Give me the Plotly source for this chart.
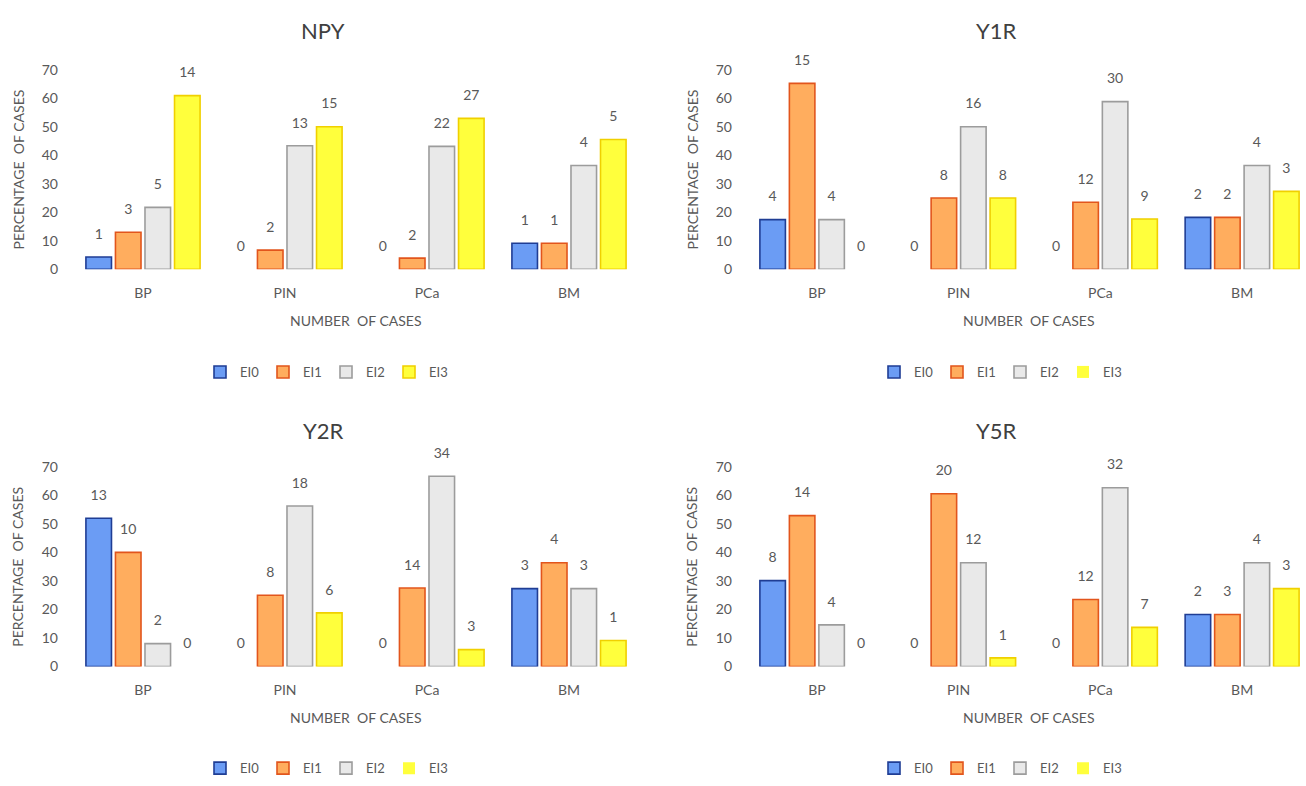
import plotly.graph_objects as go
from plotly.subplots import make_subplots

# Groups on the x axis and grade series
categories = ["BP", "PIN", "PCa", "BM"]
series_names = ["EI0", "EI1", "EI2", "EI3"]
y_ticks = [0, 10, 20, 30, 40, 50, 60, 70]

# Percentage of cases (bar heights) per receptor, one list per grade
npy_pct = {
    "EI0": [4.3, 0, 0, 9.1],
    "EI1": [13.0, 6.7, 3.9, 9.1],
    "EI2": [21.7, 43.3, 43.1, 36.4],
    "EI3": [60.9, 50.0, 52.9, 45.5],
}
y1r_pct = {
    "EI0": [17.4, 0, 0, 18.2],
    "EI1": [65.2, 25.0, 23.5, 18.2],
    "EI2": [17.4, 50.0, 58.8, 36.4],
    "EI3": [0, 25.0, 17.6, 27.3],
}
y2r_pct = {
    "EI0": [52.0, 0, 0, 27.3],
    "EI1": [40.0, 25.0, 27.5, 36.4],
    "EI2": [8.0, 56.3, 66.7, 27.3],
    "EI3": [0, 18.8, 5.9, 9.1],
}
y5r_pct = {
    "EI0": [30.1, 0, 0, 18.2],
    "EI1": [52.9, 60.6, 23.5, 18.2],
    "EI2": [14.6, 36.4, 62.7, 36.4],
    "EI3": [0, 3.0, 13.7, 27.3],
}

# Number of cases shown above each bar
npy_n = {"EI0": [1, 0, 0, 1], "EI1": [3, 2, 2, 1], "EI2": [5, 13, 22, 4], "EI3": [14, 15, 27, 5]}
y1r_n = {"EI0": [4, 0, 0, 2], "EI1": [15, 8, 12, 2], "EI2": [4, 16, 30, 4], "EI3": [0, 8, 9, 3]}
y2r_n = {"EI0": [13, 0, 0, 3], "EI1": [10, 8, 14, 4], "EI2": [2, 18, 34, 3], "EI3": [0, 6, 3, 1]}
y5r_n = {"EI0": [8, 0, 0, 2], "EI1": [14, 20, 12, 3], "EI2": [4, 12, 32, 4], "EI3": [0, 1, 7, 3]}

panels = [
    ("NPY", npy_pct, npy_n),
    ("Y1R", y1r_pct, y1r_n),
    ("Y2R", y2r_pct, y2r_n),
    ("Y5R", y5r_pct, y5r_n),
]

fills = {"EI0": "#6b9cf4", "EI1": "#ffad5e", "EI2": "#e9e9e9", "EI3": "#ffff3c"}
edges = {"EI0": "#1f3d94", "EI1": "#e2551c", "EI2": "#9c9c9c", "EI3": "#f0d000"}

FONT = "Lato, 'Open Sans', sans-serif"
GREY = "#595959"
W, H = 1306, 786

# bar geometry inside one category slot (category units)
BAR_W = 0.18
STEP = 0.208
centers = [(k - 1.5) * STEP for k in range(len(series_names))]

fig = make_subplots(rows=2, cols=2)

# pixel geometry of each panel: (x0, x1, y_top, y_bottom)
boxes = [(72, 640, 62, 266), (746, 1313, 62, 266), (72, 640, 468, 672), (746, 1313, 468, 672)]
legend_ids = ["legend", "legend2", "legend3", "legend4"]

for i, (name, pct, counts) in enumerate(panels):
    r, c = i // 2 + 1, i % 2 + 1
    for k, s in enumerate(series_names):
        vals = pct[s]
        xs = list(range(len(categories)))
        fig.add_trace(
            go.Bar(
                x=xs,
                y=vals,
                name=s,
                width=BAR_W,
                offset=centers[k] - BAR_W / 2,
                marker=dict(
                    color=fills[s],
                    line=dict(color=edges[s], width=[0 if v == 0 else 1.6 for v in vals]),
                ),
                legend=legend_ids[i],
                hoverinfo="skip",
            ),
            row=r, col=c,
        )
        # case counts written above each bar
        fig.add_trace(
            go.Scatter(
                x=[x + centers[k] for x in xs],
                y=vals,
                mode="markers+text",
                text=[str(v) for v in counts[s]],
                textposition="top center",
                textfont=dict(family=FONT, size=14, color=GREY),
                marker=dict(size=22, opacity=0),
                cliponaxis=False,
                showlegend=False,
                hoverinfo="skip",
            ),
            row=r, col=c,
        )

layout = {}
for i, (x0, x1, yt, yb) in enumerate(boxes):
    suffix = "" if i == 0 else str(i + 1)
    px_per_cat = (x1 - x0) / 4.0
    right_edge = min(x1, W)
    xr = [-0.5, -0.5 + (right_edge - x0) / px_per_cat]
    layout["xaxis" + suffix] = dict(
        domain=[x0 / W, right_edge / W],
        range=xr,
        tickvals=list(range(len(categories))),
        ticktext=categories,
        showgrid=False, zeroline=False, showline=False, ticks="",
        tickfont=dict(family=FONT, size=14, color=GREY),
        ticklabelstandoff=14,
    )
    layout["yaxis" + suffix] = dict(
        domain=[1 - yb / H, 1 - yt / H],
        range=[0, 70],
        tickvals=y_ticks,
        showgrid=False, zeroline=False, showline=False, ticks="",
        tickfont=dict(family=FONT, size=14, color=GREY),
        ticklabelstandoff=13,
    )

legend_pos = [(326, 371), (1000, 371), (326, 776), (1000, 776)]
for i, (lx, ly) in enumerate(legend_pos):
    layout[legend_ids[i]] = dict(
        orientation="h", x=lx / W, y=1 - ly / H, xanchor="center", yanchor="middle",
        font=dict(family=FONT, size=13, color=GREY),
        itemwidth=30, entrywidth=18, bgcolor="rgba(0,0,0,0)", tracegroupgap=0,
    )

annotations = []
titles = [("NPY", 323, 22), ("Y1R", 996, 22), ("Y2R", 323, 431), ("Y5R", 996, 431)]
for t, tx, ty in titles:
    annotations.append(dict(text=t, x=tx / W, y=1 - ty / H, xref="paper", yref="paper",
                            showarrow=False, xanchor="center", yanchor="middle",
                            font=dict(family=FONT, size=22, color="#404040")))
for yx, xcx, (x0, x1, yt, yb) in [(18, 356, boxes[0]), (692, 1029, boxes[1]),
                                  (18, 356, boxes[2]), (692, 1029, boxes[3])]:
    annotations.append(dict(text="PERCENTAGE\u00a0 OF CASES", textangle=-90,
                            x=yx / W, y=1 - (yt + yb) / 2 / H, xref="paper", yref="paper",
                            showarrow=False, xanchor="center", yanchor="middle",
                            font=dict(family=FONT, size=14, color=GREY)))
    annotations.append(dict(text="NUMBER\u00a0 OF CASES",
                            x=xcx / W, y=1 - (yb + 52) / H, xref="paper", yref="paper",
                            showarrow=False, xanchor="center", yanchor="middle",
                            font=dict(family=FONT, size=14, color=GREY)))

fig.update_layout(
    **layout,
    annotations=annotations,
    barmode="overlay",
    width=W, height=H,
    margin=dict(l=0, r=0, t=0, b=0),
    paper_bgcolor="white",
    plot_bgcolor="white",
    showlegend=True,
    font=dict(family=FONT, color=GREY),
)

fig.write_html("out.html")
